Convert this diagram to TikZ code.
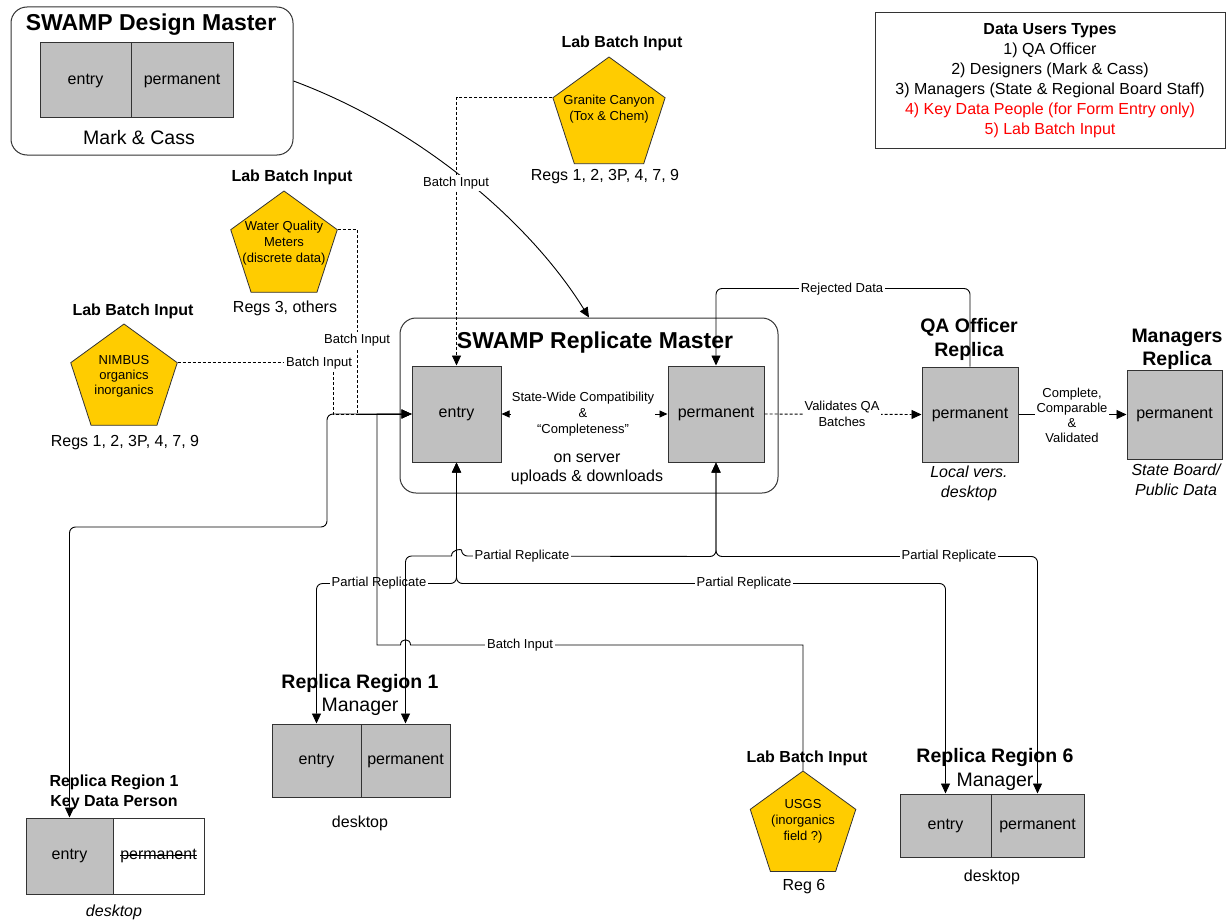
\documentclass[tikz,border=0pt]{standalone}
\usepackage{fontspec}
\setmainfont{Liberation Sans}
\usetikzlibrary{shapes.geometric,arrows.meta}
\definecolor{boxgray}{HTML}{C0C0C0}
\definecolor{pentyellow}{HTML}{FFCC00}
\definecolor{edgegray}{HTML}{333333}
\definecolor{legendred}{HTML}{FF0000}
\newcommand\fsBig{\fontsize{23}{27}\selectfont\bfseries}
\newcommand\fsMid{\fontsize{19.5}{24}\selectfont}
\newcommand\fsNorm{\fontsize{16}{20}\selectfont}
\newcommand\fsSmall{\fontsize{13}{16}\selectfont}
\newcommand\fsSmallT{\fontsize{13}{15}\selectfont}
\begin{document}
\begin{tikzpicture}[x=1pt,y=-1pt,
  dbbox/.style={draw=edgegray,line width=1pt,fill=boxgray,inner sep=0pt,font=\fsNorm},
  container/.style={draw=edgegray,line width=1pt,rounded corners=16pt,inner sep=0pt},
  penta/.style={regular polygon,regular polygon sides=5,draw=edgegray,line width=0.8pt,fill=pentyellow,inner sep=0pt},
  conn/.style={line width=0.9pt,black},
  dashconn/.style={conn,dash pattern=on 3pt off 2pt},
  tip/.style={-{Triangle[length=10pt,width=9pt]}},
  dtip/.style={{Triangle[length=10pt,width=9pt]}-{Triangle[length=10pt,width=9pt]}},
  stip/.style={{Triangle[length=8pt,width=7pt]}-{Triangle[length=8pt,width=7pt]}},
  lbl/.style={fill=white,inner sep=2pt,font=\fsSmall},
  txt/.style={inner sep=0pt,align=center}
]
\useasboundingbox (0,0) rectangle (1230,923);
\fill[white] (0,0) rectangle (1230,923);

% ---- Design master
\node[container,minimum width=282pt,minimum height=148pt] (dm) at (152,81) {};
\node[txt,font=\fsBig] (dmt) at (151,25) {SWAMP Design Master};
\node[dbbox,minimum width=91pt,minimum height=75pt] (dme) at (85.5,80.5) {entry};
\node[dbbox,minimum width=102pt,minimum height=75pt] (dmp) at (182,80.5) {permanent};
\node[txt,font=\fsMid] (dmc) at (139,138) {Mark \& Cass};

% ---- Legend
\node[draw=edgegray,line width=1pt,minimum width=350pt,minimum height=135pt] (leg) at (1050,80.5) {};
\node[txt,font=\fsNorm] (legt) at (1050,80.5) {\textbf{Data Users Types}\\1) QA Officer\\2) Designers (Mark \& Cass)\\3) Managers (State \& Regional Board Staff)\\\textcolor{legendred}{4) Key Data People (for Form Entry only)}\\\textcolor{legendred}{5) Lab Batch Input}};

% ---- Pentagons
\node[penta,minimum size=118pt] (gc) at (609,116) {};
\node[txt,font=\fsSmall] (gct) at (609,109) {Granite Canyon\\(Tox \& Chem)};
\node[txt,font={\fsNorm\bfseries}] (gch) at (622,43) {Lab Batch Input};
\node[txt,font=\fsNorm] (gcr) at (605,177) {Regs 1, 2, 3P, 4, 7, 9};

\node[penta,minimum size=112pt] (wq) at (284,247) {};
\node[txt,font=\fsSmall] (wqt) at (284,243) {Water Quality\\Meters\\(discrete data)};
\node[txt,font={\fsNorm\bfseries}] (wqh) at (292,177) {Lab Batch Input};
\node[txt,font=\fsNorm] (wqr) at (285,308) {Regs 3, others};

\node[penta,minimum size=112pt] (nim) at (124,380) {};
\node[txt,font=\fsSmallT] (nimt) at (124,376) {NIMBUS\\organics\\inorganics};
\node[txt,font={\fsNorm\bfseries}] (nimh) at (133,311) {Lab Batch Input};
\node[txt,font=\fsNorm] (nimr) at (125,443) {Regs 1, 2, 3P, 4, 7, 9};

\node[penta,minimum size=111pt] (usgs) at (803,826.5) {};
\node[txt,font=\fsSmall] (usgst) at (803,821) {USGS\\(inorganics\\field ?)};
\node[txt,font={\fsNorm\bfseries}] (usgsh) at (807,758) {Lab Batch Input};
\node[txt,font=\fsNorm] (usgsr) at (804,887) {Reg 6};

% ---- Replicate master
\node[container,minimum width=378pt,minimum height=175pt] (rm) at (589,405.5) {};
\node[txt,font=\fsBig] (rmt) at (595,343) {SWAMP Replicate Master};
\node[dbbox,minimum width=89pt,minimum height=96pt] (me) at (456.5,414) {entry};
\node[dbbox,minimum width=96pt,minimum height=96pt] (mp) at (716,414) {permanent};
\node[txt,font=\fontsize{16}{19}\selectfont] (rms) at (587,469.5) {on server\\uploads \& downloads};

% ---- QA officer & managers
\node[dbbox,minimum width=96pt,minimum height=95pt] (qa) at (970,414.5) {permanent};
\node[txt,font={\fsMid\bfseries}] (qat) at (969,339) {QA Officer\\Replica};
\node[txt,font={\fsNorm\itshape}] (qas) at (969,483) {Local vers.\\desktop};
\node[dbbox,minimum width=95pt,minimum height=89pt] (mgr) at (1174.5,414.5) {permanent};
\node[txt,font={\fontsize{19.5}{23}\selectfont\bfseries}] (mgrt) at (1177,349.5) {Managers\\Replica};
\node[txt,font={\fsNorm\itshape}] (mgrs) at (1176,480) {State Board/\\Public Data};

% ---- Key data person
\node[dbbox,minimum width=87pt,minimum height=76pt] (kdpe) at (69.5,856) {entry};
\node[dbbox,fill=white,minimum width=91pt,minimum height=76pt] (kdpp) at (158.5,856) {};
\node[txt,font=\fsNorm] (kdppt) at (158.5,856) {permanent};
\draw[line width=0.8pt] ([yshift=4.3pt]kdppt.base west) -- ([yshift=4.3pt]kdppt.base east);
\node[txt,font={\fsNorm\bfseries}] (kdpt) at (114,792) {Replica Region 1\\Key Data Person};
\node[txt,font={\fsNorm\itshape}] (kdps) at (114,912) {desktop};

% ---- Region 1 manager
\node[dbbox,minimum width=89pt,minimum height=73pt] (r1e) at (316.5,760.5) {entry};
\node[dbbox,minimum width=89pt,minimum height=73pt] (r1p) at (405.5,760.5) {permanent};
\node[txt,font={\fsMid\bfseries}] (r1t) at (360,683) {Replica Region 1};
\node[txt,font=\fsMid] (r1m) at (360,707) {Manager};
\node[txt,font=\fsNorm] (r1s) at (360,823) {desktop};

% ---- Region 6 manager
\node[dbbox,minimum width=91pt,minimum height=63pt] (r6e) at (945.5,825.5) {entry};
\node[dbbox,minimum width=93pt,minimum height=63pt] (r6p) at (1037.5,825.5) {permanent};
\node[txt,font={\fsMid\bfseries}] (r6t) at (995,757) {Replica Region 6};
\node[txt,font=\fsMid] (r6m) at (995,782) {Manager};
\node[txt,font=\fsNorm] (r6s) at (992,877) {desktop};

% ---- Connectors
\draw[conn,tip] (dm.east) .. controls (420,128) and (530,222) .. (rm.north);

\draw[dashconn,tip] (gc.corner 2) -| (me.north);
\draw[dashconn,tip] (wq.corner 5) -| (357,414) -- (me.west);
\draw[dashconn,tip] (nim.corner 5) -| (333,414) -- (me.west);
\draw[conn,tip,rounded corners=6pt] (me.west) -- (327,414) -- (327,527) -| (kdpe.north);

\draw[conn,stip] (me.east) -- (mp.west);
\node[lbl,align=center,inner sep=1pt] (compat) at (583,414) {State-Wide Compatibility\\\&\\“Completeness”};

\draw[dashconn,tip] (mp.east) -- (qa.west);
\node[lbl,align=center] (valid) at (842,414) {Validates QA\\Batches};
\draw[conn,tip] (qa.east) -- (mgr.west);
\node[lbl,align=center,font=\fsSmallT] (compl) at (1072,415) {Complete,\\Comparable\\\&\\Validated};

\draw[conn,tip,rounded corners=6pt] (qa.north) -- ++(0,-78) -| (mp.north);
\node[lbl] (rej) at (842,289) {Rejected Data};

% partial replicate from entry
\draw[conn,dtip,rounded corners=6pt] (me.south) -- ++(0,121) -| (r1e.north);
\draw[conn,dtip,rounded corners=6pt] (me.south) -- ++(0,121) -| (r6e.north);
\node[lbl] (pr1) at (379,583) {Partial Replicate};
\node[lbl] (pr2) at (744,583) {Partial Replicate};

% partial replicate from permanent
\draw[conn,dtip,rounded corners=6pt] (mp.south) -- ++(0,94) -- (461.5,556) [sharp corners] .. controls +(0,-7) and +(0,-7) .. (451.5,556) [rounded corners=6pt] -| (r1p.north);
\draw[conn,dtip,rounded corners=6pt] (mp.south) -- ++(0,94) -| (r6p.north);
\node[lbl] (pr3) at (522,556) {Partial Replicate};
\node[lbl] (pr4) at (949,556) {Partial Replicate};

% USGS batch input
\draw[conn,tip] (usgs.corner 1) |- (410.5,645) .. controls +(0,-7) and +(0,-7) .. (400.5,645) -- (377,645) -- (377,414) -- (me.west);
\node[lbl] (bi4) at (520,645) {Batch Input};

% batch input labels on dashed lines
\node[lbl] (bi1) at (456,183) {Batch Input};
\node[lbl] (bi2) at (357,340) {Batch Input};
\node[lbl] (bi3) at (319,363) {Batch Input};
\end{tikzpicture}
\end{document}
